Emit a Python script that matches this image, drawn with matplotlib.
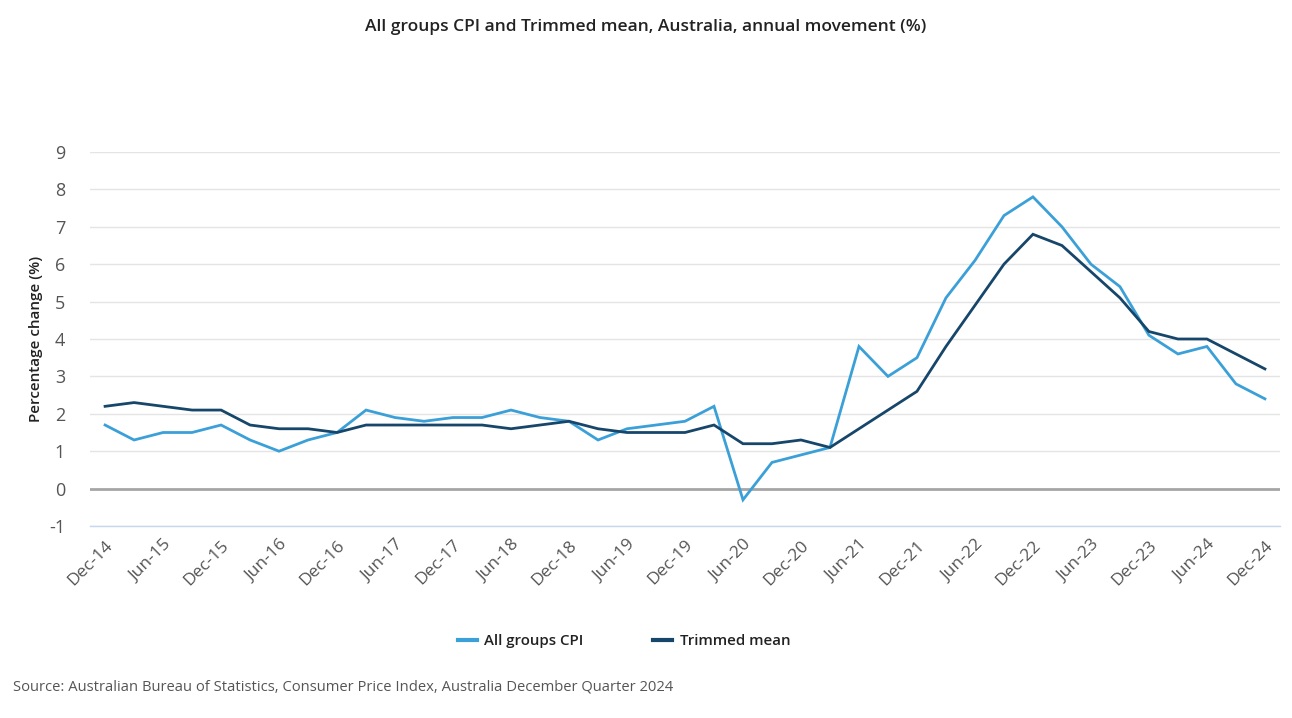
import matplotlib
matplotlib.use("Agg")
import matplotlib.pyplot as plt
import numpy as np

plt.rcParams['font.family'] = ['Open Sans', 'DejaVu Sans']

quarters = ["Dec-14", "Mar-15", "Jun-15", "Sep-15", "Dec-15", "Mar-16", "Jun-16", "Sep-16",
            "Dec-16", "Mar-17", "Jun-17", "Sep-17", "Dec-17", "Mar-18", "Jun-18", "Sep-18",
            "Dec-18", "Mar-19", "Jun-19", "Sep-19", "Dec-19", "Mar-20", "Jun-20", "Sep-20",
            "Dec-20", "Mar-21", "Jun-21", "Sep-21", "Dec-21", "Mar-22", "Jun-22", "Sep-22",
            "Dec-22", "Mar-23", "Jun-23", "Sep-23", "Dec-23", "Mar-24", "Jun-24", "Sep-24",
            "Dec-24"]
cpi = [1.7, 1.3, 1.5, 1.5, 1.7, 1.3, 1.0, 1.3, 1.5, 2.1, 1.9, 1.8, 1.9, 1.9, 2.1, 1.9,
       1.8, 1.3, 1.6, 1.7, 1.8, 2.2, -0.3, 0.7, 0.9, 1.1, 3.8, 3.0, 3.5, 5.1, 6.1, 7.3,
       7.8, 7.0, 6.0, 5.4, 4.1, 3.6, 3.8, 2.8, 2.4]
trimmed = [2.2, 2.3, 2.2, 2.1, 2.1, 1.7, 1.6, 1.6, 1.5, 1.7, 1.7, 1.7, 1.7, 1.7, 1.6, 1.7,
           1.8, 1.6, 1.5, 1.5, 1.5, 1.7, 1.2, 1.2, 1.3, 1.1, 1.6, 2.1, 2.6, 3.8, 4.9, 6.0,
           6.8, 6.5, 5.8, 5.1, 4.2, 4.0, 4.0, 3.6, 3.2]
yticks = [-1, 0, 1, 2, 3, 4, 5, 6, 7, 8, 9]

fig = plt.figure(figsize=(12.92, 7.18), dpi=100)
ax = fig.add_axes([90/1292, 1-526/718, (1280-90)/1292, (526-152)/718])

x = np.arange(len(quarters))
ax.plot(x, cpi, color='#3ba0d8', lw=2.0, label='All groups CPI', zorder=3, solid_joinstyle='miter')
ax.plot(x, trimmed, color='#17466b', lw=2.0, label='Trimmed mean', zorder=3, solid_joinstyle='miter')

ax.set_ylim(-1, 9)
ax.set_xlim(-0.52, len(quarters) - 1 + 0.52)
ax.set_yticks(yticks)
ax.set_yticklabels([str(v) for v in yticks])
ax.yaxis.grid(True, color='#e4e4e4', lw=1.0)
ax.set_axisbelow(True)
ax.axhline(0, color='#a6a6a6', lw=2.0, zorder=2)

for s in ['top', 'right', 'left']:
    ax.spines[s].set_visible(False)
ax.spines['bottom'].set_color('#c5d9ee')
ax.spines['bottom'].set_linewidth(1.0)

ax.set_xticks(x[::2])
ax.set_xticklabels(quarters[::2], rotation=45, ha='right', rotation_mode='anchor')
ax.tick_params(axis='x', length=0, pad=8, labelsize=12.5, labelcolor='#555555')
ax.tick_params(axis='y', length=0, pad=18, labelsize=13, labelcolor='#555555')

ax.set_ylabel('Percentage change (%)', fontsize=11, fontweight='semibold', color='#222222', labelpad=4)

fig.text(0.5, 1-27/718, 'All groups CPI and Trimmed mean, Australia, annual movement (%)',
         ha='center', va='center', fontsize=12.5, fontweight='semibold', color='#222222')

leg = fig.legend(loc='center', bbox_to_anchor=(624/1292, 1-641/718), ncol=2, frameon=False,
                 fontsize=10.8, handlelength=1.3, columnspacing=4.6, handletextpad=0.5)
for t in leg.get_texts():
    t.set_fontweight('semibold')
    t.set_color('#222222')
for h in leg.get_lines():
    h.set_linewidth(3)

fig.text(13/1292, 1-687/718, 'Source: Australian Bureau of Statistics, Consumer Price Index, Australia December Quarter 2024',
         ha='left', va='center', fontsize=10.6, color='#555555')

fig.savefig('out.png', dpi=100)
